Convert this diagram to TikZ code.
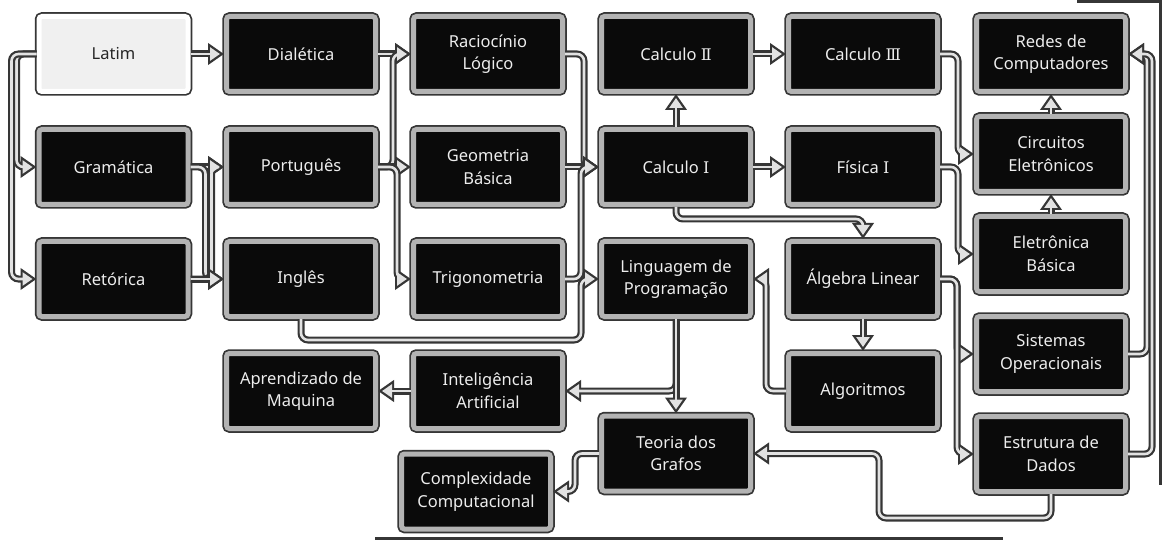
\documentclass[tikz,border=0pt]{standalone}
\usepackage{fontspec}
\setmainfont{Noto Sans}
\newfontfamily\numfont{DejaVu Serif}
\usepackage{tikz}
\usetikzlibrary{arrows.meta,calc}
\definecolor{boxedge}{HTML}{363636}
\definecolor{boxring}{HTML}{B3B3B3}
\definecolor{boxfill}{HTML}{0A0A0A}
\definecolor{startfill}{HTML}{F0F0F0}
\definecolor{linedark}{HTML}{363636}
\definecolor{linelight}{HTML}{E2E2E2}
\newcommand{\coursefont}{\fontsize{16.5}{22.5}\selectfont}
\newcommand{\romnum}[1]{{\numfont\fontsize{16}{22.5}\selectfont #1}}

\begin{document}
\begin{tikzpicture}[
    x=1pt, y=-1pt,
    course/.style={rectangle, rounded corners=3pt, minimum width=149pt, minimum height=75pt, inner sep=0pt,
      align=center, font=\coursefont, text=white!93!black, fill=boxfill, draw=boxring, line width=5pt,
      preaction={draw=boxedge, line width=8.5pt}},
    firstbox/.style={course, fill=startfill, draw=white, text=black!85},
    prereq/.style={draw=linelight, line width=2.6pt, rounded corners=7pt, shorten >=4pt,
      -{Triangle[length=10pt, width=13pt]},
      preaction={draw=linedark, line width=7pt, shorten >=0pt, -{Triangle[length=16pt, width=21pt]}}}
]
\useasboundingbox (0,0) rectangle (1162,540);

% first row
\node[firstbox] (lat) at (113.5,54) {Latim};
\node[course] (dia) at (301,54) {Dialética};
\node[course] (rac) at (488,54) {Raciocínio\\Lógico};
\node[course] (cal2) at (676,54) {Calculo \romnum{Ⅱ}};
\node[course] (cal3) at (863,54) {Calculo \romnum{Ⅲ}};
\node[course] (red) at (1051,54) {Redes de\\Computadores};
% second row
\node[course] (gra) at (113.5,167) {Gramática};
\node[course] (por) at (301,167) {Português};
\node[course] (geo) at (488,167) {Geometria\\Básica};
\node[course] (cal1) at (676,167) {Calculo \romnum{Ⅰ}};
\node[course] (fis) at (863,167) {Física \romnum{Ⅰ}};
\node[course] (cir) at (1051,154) {Circuitos\\Eletrônicos};
% third row
\node[course] (ret) at (113.5,279) {Retórica};
\node[course] (ing) at (301,279) {Inglês};
\node[course] (tri) at (488,279) {Trigonometria};
\node[course] (lin) at (676,279) {Linguagem de\\Programação};
\node[course] (alg) at (863,279) {Álgebra Linear};
\node[course] (ele) at (1051,254) {Eletrônica\\Básica};
% lower rows
\node[course] (apr) at (301,391) {Aprendizado de\\Maquina};
\node[course] (ia) at (488,391) {Inteligência\\Artificial};
\node[course] (algo) at (863,391) {Algoritmos};
\node[course] (sis) at (1051,354) {Sistemas\\Operacionais};
\node[course] (teo) at (676,453.5) {Teoria dos\\Grafos};
\node[course] (est) at (1051,454) {Estrutura de\\Dados};
\node[course] (com) at (476,491.5) {Complexidade\\Computacional};

% cut-off frames at the border
\draw[linedark, line width=3pt] (1077,1.5) -- (1160,1.5) -- (1160,485);
\draw[linedark, line width=3pt] (375,538) -- (1003,538);

\draw[prereq] (lat) -- (dia);
\draw[prereq] (lat.west) -- ++(-20,0) |- (gra.west);
\draw[prereq] (lat.west) -- ++(-25,0) |- (ret.west);
\draw[prereq] (gra) -- (por);
\draw[prereq] (gra.east) -- ++(15,0) |- (ing.west);
\draw[prereq] (ret.east) -- ++(21,0) |- (por.west);
\draw[prereq] (ret) -- (ing);
\draw[prereq] (dia) -- (rac);
\draw[prereq] (por.east) -- ++(15,0) |- (rac.west);
\draw[prereq] (por) -- (geo);
\draw[prereq] (por.east) -- ++(19,0) |- (tri.west);
\draw[prereq] (rac.east) -- ++(19,0) |- (cal1.west);
\draw[prereq] (geo) -- (cal1);
\draw[prereq] (tri.east) -- ++(16,0) |- (cal1.west);
\draw[prereq] (ing.south) |- ([xshift=-18pt,yshift=-61pt]lin.west) |- (lin.west);
\draw[prereq] (cal1) -- (cal2);
\draw[prereq] (cal1) -- (fis);
\draw[prereq] (cal1.south) |- ([yshift=20pt]alg.north) -- (alg.north);
\draw[prereq] (cal2) -- (cal3);
\draw[prereq] (cal3.east) -- ++(18,0) |- (cir.west);
\draw[prereq] (fis.east) -- ++(18,0) |- (ele.west);
\draw[prereq] (ele) -- (cir);
\draw[prereq] (cir) -- (red);
\draw[prereq] (alg.east) -- ++(17,0) |- (sis.west);
\draw[prereq] (alg.east) -- ++(17,0) |- (est.west);
\draw[prereq] (alg) -- (algo);
\draw[prereq] (algo.west) -- ++(-20,0) |- (lin.east);
\draw[prereq] (lin.south) |- (ia.east);
\draw[prereq] (lin) -- (teo);
\draw[prereq] (ia) -- (apr);
\draw[prereq] (teo.west) -- ++(-24,0) |- (com.east);
\draw[prereq] (est.south) -- ++(0,24) -| ([xshift=126pt]teo.east) -- (teo.east);
\draw[prereq] (sis.east) -- ++(19,0) |- (red.east);
\draw[prereq] (est.east) -- ++(24,0) |- (red.east);
\end{tikzpicture}
\end{document}
